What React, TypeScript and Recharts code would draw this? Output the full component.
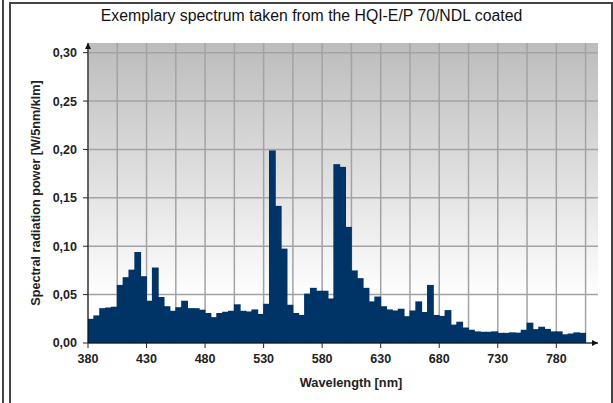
import { ComposedChart, Bar, XAxis, YAxis, CartesianGrid } from "recharts";

// 5 nm bins, value = start of the bin
const wavelengths = [
  380, 385, 390, 395, 400, 405, 410, 415, 420, 425, 430, 435, 440, 445, 450, 455, 460,
  465, 470, 475, 480, 485, 490, 495, 500, 505, 510, 515, 520, 525, 530, 535, 540, 545,
  550, 555, 560, 565, 570, 575, 580, 585, 590, 595, 600, 605, 610, 615, 620, 625, 630,
  635, 640, 645, 650, 655, 660, 665, 670, 675, 680, 685, 690, 695, 700, 705, 710, 715,
  720, 725, 730, 735, 740, 745, 750, 755, 760, 765, 770, 775, 780, 785, 790, 795, 800,
];

// W/5nm/klm
const power = [
  0.025, 0.0285, 0.036, 0.0367, 0.0375, 0.06, 0.068, 0.0758, 0.094, 0.069, 0.0437, 0.078,
  0.0475, 0.038, 0.0333, 0.037, 0.0437, 0.036, 0.036, 0.0344, 0.031, 0.0267, 0.031, 0.0323,
  0.0333, 0.04, 0.0333, 0.0326, 0.0347, 0.03, 0.0405, 0.199, 0.1417, 0.0975, 0.0395, 0.031,
  0.029, 0.051, 0.057, 0.054, 0.054, 0.046, 0.1848, 0.182, 0.12, 0.075, 0.067, 0.057, 0.043,
  0.048, 0.038, 0.0347, 0.0336, 0.0354, 0.0277, 0.0336, 0.043, 0.032, 0.06, 0.029, 0.028,
  0.034, 0.019, 0.022, 0.016, 0.0137, 0.012, 0.0116, 0.0116, 0.012, 0.0105, 0.0105, 0.011,
  0.0107, 0.0137, 0.021, 0.0143, 0.0168, 0.0146, 0.012, 0.012, 0.009, 0.0098, 0.011, 0.0105,
];

const xTicks = [380, 430, 480, 530, 580, 630, 680, 730, 780];
const gridX = [
  380, 405, 430, 455, 480, 505, 530, 555, 580, 605, 630, 655, 680, 705, 730, 755, 780, 805,
];
const yTicks = [0, 0.05, 0.1, 0.15, 0.2, 0.25, 0.3];

const rows = wavelengths.map((w, i) => ({ mid: w + 2.5, value: power[i] }));

const FONT = '"Liberation Sans", Arial, sans-serif';
const NAVY = "#003366";
const INK = "#222";

const tickStyle = { fontFamily: FONT, fontSize: 12.5, fontWeight: 700, fill: INK };

// bars touch each other, so widen each slightly to hide antialias seams
function SolidBar(props: any) {
  const { x, y, width, height } = props;
  if (!height || height <= 0) return null;
  return <rect x={x - 0.5} y={y} width={width + 1} height={height} fill={NAVY} />;
}

export default function App() {
  return (
    <div
      style={{
        position: "absolute",
        left: 0,
        top: 0,
        width: 613,
        height: 403,
        overflow: "hidden",
        background: "#fff",
      }}
    >
      <svg width={0} height={0} style={{ position: "absolute" }}>
        <defs>
          <linearGradient id="plotBg" x1="0" y1="0" x2="0" y2="1">
            <stop offset="0" stopColor="#bcbcbc" />
            <stop offset="0.85" stopColor="#ffffff" />
          </linearGradient>
          <marker
            id="arrowHead"
            viewBox="0 0 10 10"
            refX="10"
            refY="5"
            markerWidth="9"
            markerHeight="6"
            markerUnits="userSpaceOnUse"
            orient="auto-start-reverse"
          >
            <path d="M0,0 L10,5 L0,10 z" fill="#111" />
          </marker>
        </defs>
      </svg>

      {/* frame */}
      <div style={{ position: "absolute", left: 2, top: 0, width: 2, height: 403, background: "#444" }} />
      <div
        style={{
          position: "absolute",
          left: 9,
          top: 2,
          width: 600,
          height: 420,
          border: "2px solid #444",
        }}
      />

      <div
        style={{
          position: "absolute",
          left: 10,
          top: 8,
          width: 603,
          textAlign: "center",
          fontFamily: FONT,
          fontSize: 15.8,
          lineHeight: "16px",
          color: "#111",
        }}
      >
        Exemplary spectrum taken from the HQI-E/P 70/NDL coated
      </div>

      <div style={{ position: "absolute", left: 0, top: 0 }}>
        <ComposedChart
          width={613}
          height={403}
          data={rows}
          margin={{ top: 43, right: 15, bottom: 0, left: 0 }}
        >
          <CartesianGrid
            fill="url(#plotBg)"
            stroke="#a3a3a3"
            strokeWidth={1.5}
            verticalValues={gridX}
            horizontalValues={yTicks}
          />
          <XAxis
            dataKey="mid"
            type="number"
            domain={[380, 815.6]}
            ticks={xTicks}
            interval={0}
            allowDataOverflow
            height={60}
            tickSize={5}
            tickMargin={6}
            tick={tickStyle}
            tickLine={{ stroke: INK }}
            axisLine={{ stroke: "#111", markerEnd: "url(#arrowHead)" }}
            label={{
              value: "Wavelength [nm]",
              position: "insideBottom",
              offset: 16,
              dx: 8,
              style: { fontFamily: FONT, fontSize: 12.8, fontWeight: 700, fill: INK },
            }}
          />
          <YAxis
            type="number"
            domain={[0, 0.31]}
            ticks={yTicks}
            interval={0}
            allowDataOverflow
            width={88}
            tickSize={5}
            tickMargin={6}
            tick={tickStyle}
            tickLine={{ stroke: INK }}
            tickFormatter={(v: number) => v.toFixed(2).replace(".", ",")}
            axisLine={{ stroke: "#111", markerStart: "url(#arrowHead)" }}
            label={{
              value: "Spectral radiation power [W/5nm/klm]",
              angle: -90,
              position: "insideLeft",
              offset: 36,
              style: {
                textAnchor: "middle",
                fontFamily: FONT,
                fontSize: 12.6,
                fontWeight: 700,
                fill: INK,
              },
            }}
          />
          <Bar
            dataKey="value"
            fill={NAVY}
            barSize={5.8}
            shape={SolidBar}
            isAnimationActive={false}
          />
        </ComposedChart>
      </div>
    </div>
  );
}
